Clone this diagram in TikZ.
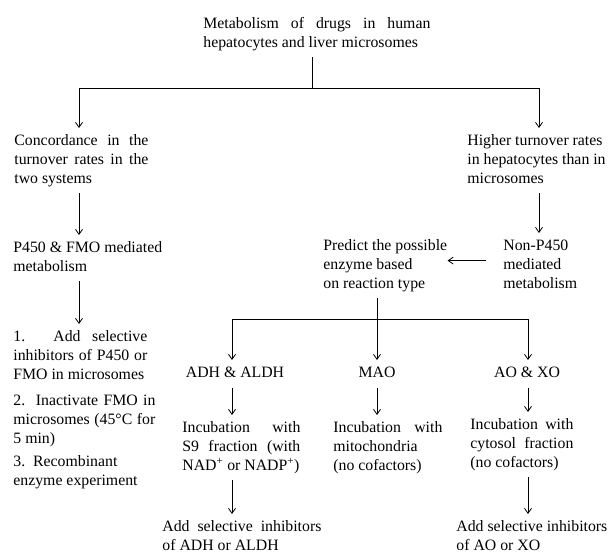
\documentclass[tikz,border=0pt]{standalone}
\usepackage{fontspec}
\setmainfont{Liberation Serif}
\usetikzlibrary{arrows.meta}
\newcommand\figfont{\fontsize{15.8}{18.8}\selectfont}
\tolerance=9999
\hbadness=10000

\begin{document}
\begin{tikzpicture}[x=1pt,y=-1pt,line width=0.8pt,
        txt/.style={anchor=north west,inner xsep=0pt,inner ysep=4pt,font=\figfont,align=left},
        just/.style={txt,align=justify,text width=#1},
        enz/.style={anchor=north,inner xsep=0pt,inner ysep=4pt,font=\figfont},
        arr/.style={-{Straight Barb[length=5pt,width=7pt]}}]
            \useasboundingbox (0,0) rectangle (609,554);
            \clip (0,0) rectangle (609,554);

            \node [just=227] (title) at (203,11) {\strut Metabolism of drugs in human\linebreak hepatocytes and liver microsomes\strut};
            \node [just=134] (conc) at (14,128) {\strut Concordance in the\linebreak turnover rates in the\linebreak two systems\strut};
            \node [txt] (higher) at (467,128) {\strut Higher turnover rates\\ in hepatocytes than in\\ microsomes\strut};
            \node [txt] (p450) at (13,235) {\strut P450 \& FMO mediated\\ metabolism\strut};
            \node [txt] (nonp) at (503,233) {\strut Non-P450\\ mediated\\ metabolism\strut};
            \node [txt] (pred) at (323,233) {\strut Predict the possible\\ enzyme based\\ on reaction type\strut};
            \node [just=134] (act1) at (13,324) {\strut 1. Add selective\linebreak inhibitors of P450 or\linebreak FMO in microsomes\strut};
            \node [just=142] (act2) at (13,388) {\strut 2.\ \ Inactivate FMO in\linebreak microsomes (45°C for\linebreak 5 min)\strut};
            \node [txt] (act3) at (13,449) {\strut 3.\ \ Recombinant\\ enzyme experiment\strut};

            \node [enz] (adh) at (235,360) {\strut ADH \& ALDH};
            \node [enz] (mao) at (377,360) {\strut MAO};
            \node [enz] (ao) at (527,360) {\strut AO \& XO};
            \node [just=118] (incadh) at (182,415) {\strut Incubation with\linebreak S9 fraction (with\linebreak NAD\textsuperscript{+} or NADP\textsuperscript{+})\strut};
            \node [just=109] (incmao) at (333,415) {\strut Incubation with\linebreak mitochondria\\ (no cofactors)\strut};
            \node [just=103] (incao) at (470,412) {\strut Incubation with\linebreak cytosol fraction\linebreak (no cofactors)\strut};
            \node [just=159] (addadh) at (162,514) {\strut Add selective inhibitors\linebreak of ADH or ALDH\strut};
            \node [txt] (addao) at (456,514) {\strut Add selective inhibitors\\ of AO or XO\strut};

            \coordinate (top) at (312,88);
            \coordinate (jl) at (79,88);
            \coordinate (jr) at (539,88);
            \coordinate (mid) at (377,319);
            \coordinate (ja) at (232,319);
            \coordinate (jc) at (528,319);

            \draw (title.south -| top) -- (top);
            \draw (jl) -- (jr);
            \draw [arr] (jl) -- (jl |- conc.north);
            \draw [arr] (jr) -- (jr |- higher.north);
            \draw [arr] (conc.south -| jl) -- (p450.north -| jl);
            \draw [arr] (p450.south -| jl) -- (act1.north -| jl);
            \draw [arr] (higher.south -| jr) -- (nonp.north -| jr);
            \draw [arr,shorten <=17pt] ([yshift=5pt]nonp.west) -- ([yshift=5pt]pred.east);
            \draw (pred.south -| mid) -- (mid);
            \draw (ja) -- (jc);
            \draw [arr] (ja) -- (ja |- adh.north);
            \draw [arr] (mid) -- (mao.north);
            \draw [arr] (jc) -- (jc |- ao.north);
            \draw [arr] (adh.south -| ja) -- (incadh.north -| ja);
            \draw [arr] (mao.south) -- (incmao.north -| mao);
            \draw [arr] (ao.south -| jc) -- (incao.north -| jc);
            \draw [arr] (incadh.south -| ja) -- (addadh.north -| ja);
            \draw [arr] (incao.south -| jc) -- (addao.north -| jc);
        \end{tikzpicture}
\end{document}
